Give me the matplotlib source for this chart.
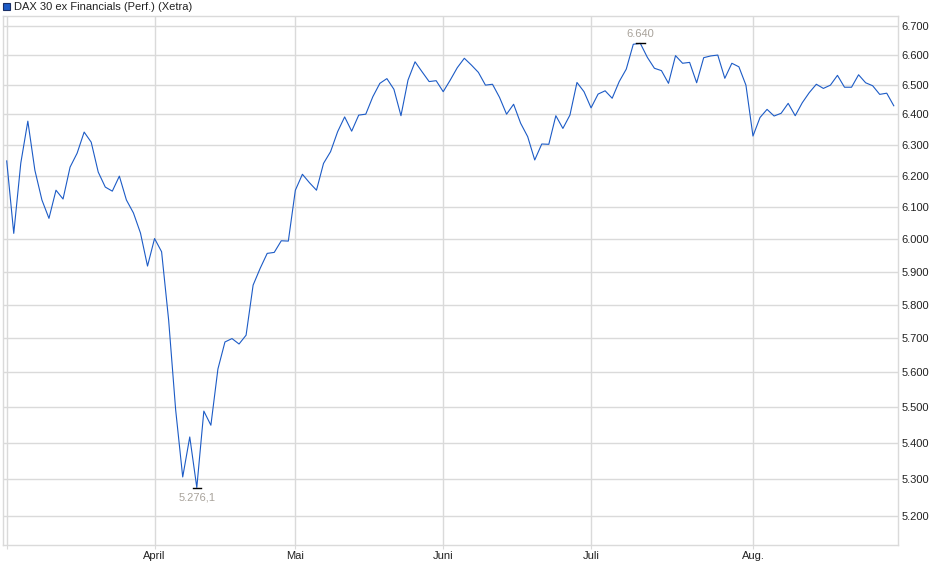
import numpy as np
import matplotlib
matplotlib.use("Agg")
import matplotlib.pyplot as plt
from matplotlib.ticker import FixedLocator, NullLocator, FuncFormatter
from matplotlib.patches import Rectangle

plt.rcParams['font.family'] = ['Liberation Sans', 'DejaVu Sans']

# 1.Data (daily close, trading days 3 Mar - 29 Aug)

title = "DAX 30 ex Financials (Perf.) (Xetra)"

march = [6248, 6018, 6241, 6378, 6218, 6123, 6065, 6154, 6126, 6228,
         6273, 6342, 6309, 6212, 6164, 6151, 6199, 6123, 6082, 6019, 5917]
april = [6002, 5961, 5754, 5492, 5305, 5416, 5276.1, 5489, 5449, 5610,
         5689, 5699, 5683, 5709, 5859, 5910, 5956, 5959, 5995, 5994]
may = [6154, 6205, 6178, 6154, 6240, 6278, 6343, 6392, 6345, 6398,
       6401, 6459, 6504, 6520, 6484, 6396, 6515, 6577, 6543, 6510, 6513]
june = [6476, 6515, 6557, 6589, 6566, 6541, 6498, 6501, 6457, 6401,
        6434, 6371, 6327, 6251, 6303, 6302, 6396, 6354, 6398, 6507, 6476]
july = [6422, 6468, 6479, 6454, 6510, 6552, 6637, 6640, 6592, 6555,
        6547, 6504, 6598, 6572, 6575, 6506, 6591, 6597, 6600, 6521,
        6572, 6560, 6498]
august = [6329, 6390, 6417, 6395, 6404, 6437, 6396, 6439, 6473, 6501,
          6487, 6498, 6531, 6491, 6491, 6533, 6506, 6496, 6467, 6471, 6429]

month_labels = ["", "April", "Mai", "Juni", "Juli", "Aug."]
y_ticks = [5200, 5300, 5400, 5500, 5600, 5700, 5800, 5900, 6000,
           6100, 6200, 6300, 6400, 6500, 6600, 6700]

values = np.array(march + april + may + june + july + august, dtype=float)
x = np.arange(len(values))
month_starts = np.cumsum([0, len(march), len(april), len(may), len(june), len(july)])

# 2.Plot

line_color = '#1c5bc6'
grid_color = '#dadada'

fig = plt.figure(figsize=(9.4, 5.79), dpi=100)
ax = fig.add_axes([2.7 / 940, 1 - 545 / 579, (898 - 2.7) / 940, (545 - 16) / 579])

ax.plot(x, values, color=line_color, linewidth=0.8)

ax.set_yscale('log')
ax.set_xlim(-0.57, 126.6)
ax.set_ylim(5121.4, 6734.8)

ax.yaxis.set_major_locator(FixedLocator(y_ticks))
ax.yaxis.set_minor_locator(NullLocator())
ax.yaxis.set_major_formatter(FuncFormatter(lambda v, p: f"{v:,.0f}".replace(",", ".")))
ax.yaxis.tick_right()
ax.tick_params(axis='y', length=0, pad=2.5, labelsize=8, labelcolor='#222222')

ax.set_xticks(month_starts)
ax.set_xticklabels(month_labels)
ax.tick_params(axis='x', length=3, pad=1, color=grid_color, labelsize=8, labelcolor='#222222')

ax.grid(True, color=grid_color, linewidth=1)
ax.set_axisbelow(True)
for s in ax.spines.values():
    s.set_color(grid_color)
    s.set_linewidth(1)

# min / max markers
i_min = int(np.argmin(values))
i_max = int(np.argmax(values))
ax.plot([i_min - 0.6, i_min + 0.6], [values[i_min]] * 2, color='black', linewidth=1)
ax.plot([i_max - 0.6, i_max + 0.6], [values[i_max]] * 2, color='black', linewidth=1)
ax.annotate(f"{values[i_min]:,.1f}".replace(",", "X").replace(".", ",").replace("X", "."),
            (i_min, values[i_min]), xytext=(0, -7), textcoords='offset points',
            ha='center', va='center', fontsize=8, color='#a8a29a')
ax.annotate(f"{values[i_max]:,.0f}".replace(",", "."),
            (i_max, values[i_max]), xytext=(0, 7), textcoords='offset points',
            ha='center', va='center', fontsize=8, color='#a8a29a')

# legend header
fig.patches.append(Rectangle((3 / 940, 1 - 10 / 579), 7 / 940, 7 / 579,
                             transform=fig.transFigure, facecolor=line_color,
                             edgecolor='#1a2f66', linewidth=0.8))
fig.text(14 / 940, 1 - 6.5 / 579, title, fontsize=8, color='#222222', va='center', ha='left')

plt.savefig('out.png', dpi=100)
